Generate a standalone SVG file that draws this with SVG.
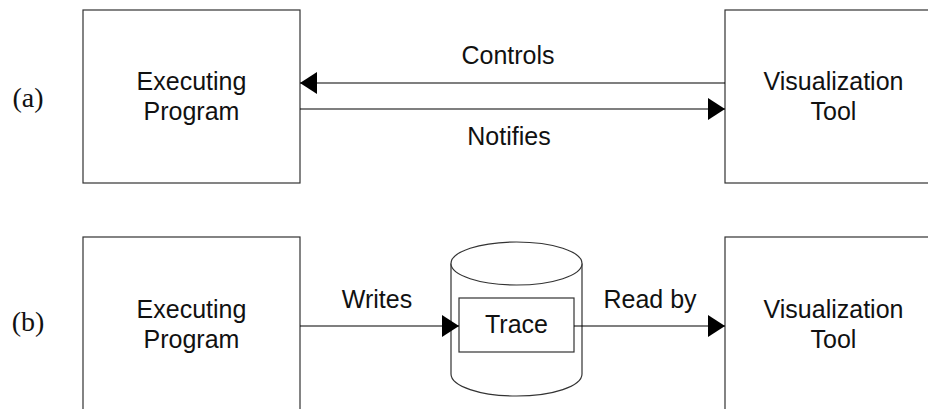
<svg xmlns="http://www.w3.org/2000/svg" width="928" height="409" viewBox="0 0 928 409">
<style>
.box{fill:#fff;stroke:#333;stroke-width:1.2}
.ln{fill:none;stroke:#000;stroke-width:1.2}
.t{font-family:"Liberation Sans",Arial,sans-serif;font-size:25px;fill:#111;text-anchor:middle}
.lab{font-family:"Liberation Serif","Times New Roman",serif;font-size:28px;fill:#111;text-anchor:middle}
</style>
<defs>
<marker id="ah" markerWidth="17" markerHeight="22" refX="17" refY="11" orient="auto" markerUnits="userSpaceOnUse">
<path d="M0,0 L17,11 L0,22 Z" fill="#000"/>
</marker>
</defs>
<rect width="928" height="409" fill="#fff"/>
<text class="lab" x="28" y="107">(a)</text>
<text class="lab" x="28" y="331">(b)</text>
<g id="a-exec">
<rect class="box" x="83" y="10" width="217" height="173"/>
<text class="t" x="191.5" y="90">Executing</text>
<text class="t" x="191.5" y="120">Program</text>
</g>
<g id="a-vis">
<rect class="box" x="725" y="10" width="217" height="173"/>
<text class="t" x="833.5" y="90">Visualization</text>
<text class="t" x="833.5" y="120">Tool</text>
</g>
<g id="b-exec">
<rect class="box" x="83" y="237" width="217" height="190"/>
<text class="t" x="191.5" y="318">Executing</text>
<text class="t" x="191.5" y="348">Program</text>
</g>
<g id="b-trace">
<path class="box" d="M451,263.5 L451,374 A65.5,22 0 0 0 582,374 L582,263.5"/>
<ellipse class="box" cx="516.5" cy="263.5" rx="65.5" ry="21.5"/>
<rect class="box" x="459" y="298" width="115" height="54"/>
<text class="t" x="516.5" y="333">Trace</text>
</g>
<g id="b-vis">
<rect class="box" x="725" y="237" width="217" height="190"/>
<text class="t" x="833.5" y="318">Visualization</text>
<text class="t" x="833.5" y="348">Tool</text>
</g>
<g id="connectors">
<line class="ln" x1="725" y1="83" x2="300" y2="83" marker-end="url(#ah)"/>
<line class="ln" x1="300" y1="109" x2="725" y2="109" marker-end="url(#ah)"/>
<line class="ln" x1="300" y1="326" x2="459" y2="326" marker-end="url(#ah)"/>
<line class="ln" x1="574" y1="326" x2="725" y2="326" marker-end="url(#ah)"/>
<text class="t" x="508" y="64">Controls</text>
<text class="t" x="509" y="145">Notifies</text>
<text class="t" x="377" y="308">Writes</text>
<text class="t" x="650" y="308">Read by</text>
</g>
</svg>
